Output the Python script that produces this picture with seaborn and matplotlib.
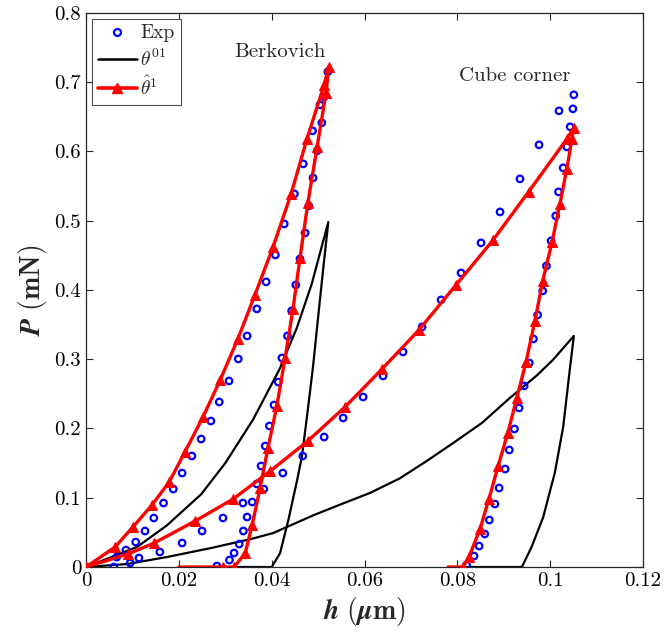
import numpy as np
import pandas as pd
import matplotlib
matplotlib.use("Agg")
import matplotlib.pyplot as plt
import seaborn as sns
from matplotlib.lines import Line2D
from matplotlib.ticker import FormatStrFormatter

# %%
# Experimental points (h in um, P in mN)
berk_load_h = [0, 0.0066, 0.0086, 0.0107, 0.0127, 0.0146, 0.0167, 0.0188, 0.0207, 0.0228,
               0.0248, 0.0269, 0.0287, 0.0308, 0.0328, 0.0347, 0.0368, 0.0388, 0.0408,
               0.0427, 0.0449, 0.0468, 0.0488, 0.0504, 0.0521]
berk_load_p = [0, 0.0144, 0.0245, 0.0361, 0.052, 0.0708, 0.0924, 0.1126, 0.1357, 0.1603,
               0.1848, 0.2108, 0.2383, 0.2686, 0.3004, 0.3336, 0.3726, 0.4116, 0.4505,
               0.4953, 0.5386, 0.5819, 0.6296, 0.6671, 0.7148]
berk_unl_h = [0.0513, 0.0508, 0.0498, 0.0489, 0.048, 0.0472, 0.0461, 0.0452, 0.0443, 0.0434,
              0.0422, 0.0414, 0.0405, 0.0395, 0.0386, 0.0377, 0.0368, 0.0358, 0.0347,
              0.0339, 0.033, 0.0319, 0.0309, 0.0282]
berk_unl_p = [0.6787, 0.6412, 0.6007, 0.5617, 0.5213, 0.4823, 0.4448, 0.4072, 0.3697, 0.3336,
              0.3018, 0.2671, 0.2339, 0.2036, 0.1747, 0.1458, 0.1199, 0.0939, 0.0722,
              0.052, 0.0332, 0.0202, 0.0101, 0.0014]
cube_load_h = [0.006, 0.0095, 0.0114, 0.0159, 0.0207, 0.025, 0.0295, 0.0338, 0.0383, 0.0424,
               0.0467, 0.0513, 0.0554, 0.0597, 0.064, 0.0683, 0.0724, 0.0765, 0.0808,
               0.0851, 0.0892, 0.0935, 0.0976, 0.1019, 0.1051]
cube_load_p = [0.0, 0.0058, 0.013, 0.0217, 0.0347, 0.052, 0.0708, 0.0924, 0.1126, 0.1357,
               0.1603, 0.1877, 0.2152, 0.2455, 0.2758, 0.3105, 0.3466, 0.3856, 0.4245,
               0.4679, 0.5126, 0.5603, 0.6094, 0.6585, 0.6816]
cube_unl_h = [0.1049, 0.1043, 0.1036, 0.1028, 0.1018, 0.1012, 0.1002, 0.0992, 0.0984, 0.0973,
              0.0964, 0.0955, 0.0944, 0.0933, 0.0923, 0.0912, 0.0903, 0.089, 0.0881,
              0.0869, 0.0859, 0.0847, 0.0836, 0.082]
cube_unl_p = [0.6614, 0.6354, 0.6065, 0.5762, 0.5415, 0.5069, 0.4708, 0.4347, 0.3986, 0.3639,
              0.3292, 0.2946, 0.2614, 0.2296, 0.1993, 0.169, 0.1415, 0.1141, 0.091,
              0.0679, 0.0477, 0.0303, 0.0159, 0.0029]

# theta^01 (black)
th0_berk_h = [0, 0.011, 0.0174, 0.0248, 0.0300, 0.0360, 0.0418, 0.0454, 0.0486, 0.0522,
              0.0513, 0.0504, 0.0489, 0.0476, 0.0465, 0.0455, 0.0436, 0.0418, 0.040, 0.0321]
th0_berk_p = [0, 0.029, 0.060, 0.105, 0.150, 0.213, 0.287, 0.345, 0.408, 0.498,
              0.443, 0.386, 0.289, 0.217, 0.159, 0.126, 0.068, 0.020, 0, 0]
th0_cube_h = [0, 0.0088, 0.0174, 0.0269, 0.0355, 0.0403, 0.0489, 0.0547, 0.0612, 0.0676,
              0.0735, 0.0791, 0.0853, 0.0913, 0.0972, 0.1006, 0.1051, 0.1043, 0.1028,
              0.101, 0.0985, 0.096, 0.0939, 0.0817]
th0_cube_p = [0, 0.0043, 0.0144, 0.0274, 0.0404, 0.049, 0.0745, 0.090, 0.107, 0.128,
              0.1535, 0.179, 0.208, 0.244, 0.277, 0.299, 0.3336, 0.289, 0.202,
              0.136, 0.072, 0.029, 0, 0]

# theta-hat^1 (red)
th1_berk_h = [0, 0.00625, 0.0101, 0.0142, 0.0179, 0.0213, 0.0252, 0.0289, 0.0327, 0.0364,
              0.0403, 0.0442, 0.0476, 0.0513, 0.0523, 0.0517, 0.0498, 0.0478, 0.0461,
              0.0446, 0.0429, 0.0411, 0.0392, 0.0375, 0.0358, 0.0343, 0.0319, 0.0295, 0.0200]
th1_berk_p = [0, 0.0289, 0.0578, 0.0895, 0.1227, 0.166, 0.2166, 0.27, 0.329, 0.393,
              0.462, 0.539, 0.618, 0.696, 0.722, 0.684, 0.607, 0.526, 0.446,
              0.373, 0.302, 0.232, 0.172, 0.114, 0.061, 0.020, 0, 0, 0]
th1_cube_h = [0, 0.009, 0.0147, 0.0235, 0.0317, 0.0397, 0.0478, 0.0558, 0.0638, 0.0717,
              0.0797, 0.0877, 0.0954, 0.1036, 0.1051, 0.1047, 0.1036, 0.1021, 0.1004,
              0.0984, 0.0967, 0.0948, 0.0928, 0.0909, 0.0888, 0.0868, 0.0849, 0.0825,
              0.0812, 0.0780]
th1_cube_p = [0, 0.0188, 0.0347, 0.0664, 0.0982, 0.1386, 0.182, 0.231, 0.286, 0.342,
              0.407, 0.472, 0.542, 0.618, 0.634, 0.618, 0.575, 0.524, 0.469,
              0.413, 0.355, 0.296, 0.244, 0.194, 0.146, 0.098, 0.055, 0.0144,
              0, 0]

# %%
sns.set_theme(style="ticks")
plt.rcParams["font.family"] = ["cmr10", "DejaVu Serif"]
plt.rcParams["mathtext.fontset"] = "cm"
plt.rcParams["axes.formatter.use_mathtext"] = True
plt.rcParams["axes.unicode_minus"] = False

fig, ax = plt.subplots(figsize=(6.67, 6.4), dpi=100)
fig.subplots_adjust(left=0.129, right=0.964, bottom=0.114, top=0.980)

exp_df = pd.DataFrame({
    "h": berk_load_h + berk_unl_h + cube_load_h + cube_unl_h,
    "P": berk_load_p + berk_unl_p + cube_load_p + cube_unl_p,
})
sns.scatterplot(data=exp_df, x="h", y="P", ax=ax, marker="o", s=22,
                facecolors="none", edgecolor="blue", linewidth=1.6, zorder=3)

for hh, pp in [(th0_berk_h, th0_berk_p), (th0_cube_h, th0_cube_p)]:
    sns.lineplot(x=hh, y=pp, ax=ax, sort=False, estimator=None, color="black",
                 linewidth=1.6, zorder=2)

for hh, pp in [(th1_berk_h, th1_berk_p), (th1_cube_h, th1_cube_p)]:
    sns.lineplot(x=hh, y=pp, ax=ax, sort=False, estimator=None, color="red",
                 linewidth=2.4, marker="^", markersize=7, markeredgecolor="red",
                 markevery=list(range(len(hh) - 1)), zorder=4)

ax.text(0.0418, 0.744, "Berkovich", fontsize=15, ha="center", va="center")
ax.text(0.0924, 0.708, "Cube corner", fontsize=15, ha="center", va="center")

ax.set_xlim(0, 0.12)
ax.set_ylim(0, 0.8)
ax.set_xticks(np.arange(0, 0.121, 0.02))
ax.set_yticks(np.arange(0, 0.81, 0.1))
ax.xaxis.set_major_formatter(FormatStrFormatter("%g"))
ax.yaxis.set_major_formatter(FormatStrFormatter("%g"))
ax.tick_params(direction="in", top=True, right=True, length=5, width=0.8,
               labelsize=15, colors="0.15", labelcolor="black")
for sp in ax.spines.values():
    sp.set_linewidth(0.9)
    sp.set_color("0.15")

ax.set_xlabel(r"$\boldsymbol{h}\ (\boldsymbol{\mu}\mathbf{m})$", fontsize=20, labelpad=4)
ax.set_ylabel(r"$\boldsymbol{P}\ (\mathbf{mN})$", fontsize=20, labelpad=4)

handles = [
    Line2D([], [], linestyle="none", marker="o", markersize=5, markerfacecolor="none",
           markeredgecolor="blue", markeredgewidth=1.6),
    Line2D([], [], color="black", linewidth=1.8),
    Line2D([], [], color="red", linewidth=2.6, marker="^", markersize=7),
]
leg = ax.legend(handles, ["Exp", r"$\theta^{01}$", r"$\hat{\theta}^{1}$"], loc="upper left",
                fontsize=14, frameon=True, fancybox=False, framealpha=1, edgecolor="0.3",
                handlelength=2.0, handletextpad=0.2, borderpad=0.3, labelspacing=0.3,
                borderaxespad=0.3)
leg.get_frame().set_linewidth(0.8)

plt.savefig("out.png", dpi=100)
